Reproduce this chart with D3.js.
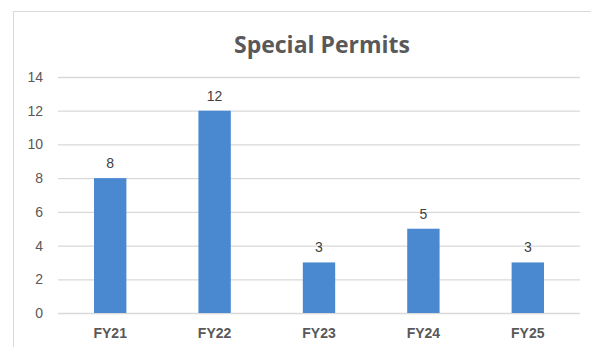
<!DOCTYPE html>
<html><head><meta charset="utf-8">
<script src="https://cdn.jsdelivr.net/npm/d3@7/dist/d3.min.js"></script>
<style>body{margin:0;background:#fff;}svg{display:block;}</style>
</head><body>
<svg id="c" width="591" height="347"></svg>
<script>
const categories = ["FY21","FY22","FY23","FY24","FY25"];
const values = [8,12,3,5,3];
const yTicks = [0,2,4,6,8,10,12,14];
const title = "Special Permits";

const svg = d3.select("#c");
const W = 591, H = 347;
const m = {left:58, right:11, top:77, bottom:34};
const x = d3.scaleBand().domain(categories).range([m.left, W - m.right]).padding(0);
const y = d3.scaleLinear().domain([0,14]).range([H - m.bottom, m.top]);

svg.append("rect").attr("x",13.5).attr("y",11.5).attr("width",600).attr("height",400)
  .attr("fill","#fff").attr("stroke","#d9d9d9").attr("stroke-width",1);

svg.append("text").attr("x",322).attr("y",53).attr("text-anchor","middle")
  .attr("font-family","'Open Sans', sans-serif").attr("font-weight","bold")
  .attr("font-size",23).attr("fill","#595959").text(title);

const yAxis = d3.axisLeft(y).tickValues(yTicks).tickSize(-(W - m.right - m.left)).tickPadding(15);
const ga = svg.append("g").attr("transform",`translate(${m.left},0)`).call(yAxis);
ga.select(".domain").remove();
ga.selectAll(".tick line").attr("stroke","#d9d9d9").attr("stroke-width",1.3);
ga.selectAll(".tick text").attr("font-family","'Liberation Sans', Arial, sans-serif")
  .attr("font-size",14).attr("fill","#595959");

const xAxis = d3.axisBottom(x).tickSize(0).tickPadding(15);
const gx = svg.append("g").attr("transform",`translate(0,${y(0)})`).call(xAxis);
gx.select(".domain").remove();
gx.selectAll(".tick text").attr("font-family","'Liberation Sans', Arial, sans-serif")
  .attr("font-size",14).attr("font-weight","bold").attr("fill","#595959");

const bw = x.bandwidth()*0.31;
svg.append("g").selectAll("rect").data(values).join("rect")
  .attr("x",(d,i)=>x(categories[i]) + x.bandwidth()/2 - bw/2)
  .attr("width",bw)
  .attr("y",d=>y(d)).attr("height",d=>y(0)-y(d))
  .attr("fill","#4a89d0");

svg.append("g").selectAll("text").data(values).join("text")
  .attr("x",(d,i)=>x(categories[i]) + x.bandwidth()/2)
  .attr("y",d=>y(d)-10)
  .attr("text-anchor","middle")
  .attr("font-family","'Liberation Sans', Arial, sans-serif")
  .attr("font-size",14).attr("fill","#404040").text(d=>d);
</script>
</body></html>
